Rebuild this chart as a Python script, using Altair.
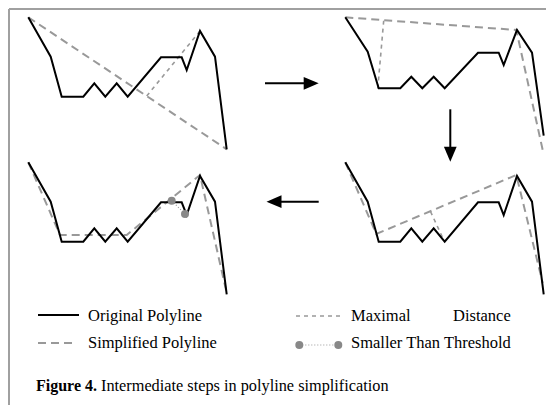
import altair as alt
import pandas as pd

# ---- data (page pixel units) ----
BASE_X = [28.3, 50.7, 61.7, 83.3, 94.3, 105.3, 116.7, 127.7, 161.0, 181.7, 186.7, 200.0, 215.0, 226.7]
BASE_Y = [17.3, 56.7, 96.7, 96.7, 83.3, 96.7, 83.3, 96.7, 57.3, 57.3, 70.0, 31.0, 56.7, 149.3]
P2_Y = [17.3, 51.7, 88.3, 88.3, 76.7, 88.3, 76.7, 88.3, 52.7, 52.7, 65.0, 30.0, 52.7, 135.7]
DX = 317
DY = 145

SIMP = {
    "p1": ([28.3, 226.7], [17.3, 149.3]),
    "p2": ([345.3, 516.3, 542.7], [17.3, 30.0, 150.0]),
    "p3": ([28.3, 60.0, 126.7, 200.0, 226.7], [162.3, 235.0, 235.0, 175.0, 293.0]),
    "p4": ([345.3, 376.3, 516.3, 542.7], [162.3, 234.0, 175.0, 283.0]),
    "leg": ([38.0, 73.0], [343.0, 343.0]),
}
MAXD = {
    "p1": ([146.7, 200.0], [96.0, 31.0]),
    "p2": ([383.7, 377.7], [20.7, 89.3]),
    "p4": ([430.5, 443.7], [211.5, 240.0]),
    "leg": ([296.0, 341.0], [316.0, 316.0]),
}
DOTTED = {
    "p3": ([171.7, 185.0], [200.7, 214.0]),
    "leg": ([299.3, 338.3], [345.0, 345.0]),
}
CIRCLE_X = [171.7, 185.0, 299.3, 338.3]
CIRCLE_Y = [200.7, 214.0, 345.0, 345.0]

ARROW_LINES = {
    "a1": ([265.0, 306.0], [83.3, 83.3]),
    "a2": ([450.3, 450.3], [109.3, 149.0]),
    "a3": ([279.0, 318.7], [201.7, 201.7]),
}
HEAD_X = [311.2, 450.3, 274.0]
HEAD_Y = [83.3, 154.2, 201.7]
HEAD_ANGLE = [0, 90, 180]

LEG_BLACK = ([38.0, 79.0], [315.0, 315.0])

TEXTS = ["Original Polyline", "Simplified Polyline", "Maximal", "Distance", "Smaller Than Threshold"]
TEXT_X = [88.0, 88.0, 351.0, 453.0, 351.0]
TEXT_Y = [320.5, 347.5, 320.5, 320.5, 347.5]
CAPTION_BOLD = "Figure 4."
CAPTION_REST = "Intermediate steps in polyline simplification"
CAPTION_X = [36.0, 101.0]
CAPTION_Y = 390.5

BORDER = {"top": ([9.0, 546.0], [9.0, 9.0]), "left": ([9.0, 9.0], [9.0, 405.0])}


def lines_df(d):
    rows = []
    for g, (xs, ys) in d.items():
        for i, (x, y) in enumerate(zip(xs, ys)):
            rows.append({"x": x, "y": y, "o": i, "g": g})
    return pd.DataFrame(rows)


orig = {
    "p1": (BASE_X, BASE_Y),
    "p2": ([x + DX for x in BASE_X], P2_Y),
    "p3": (BASE_X, [y + DY for y in BASE_Y]),
    "p4": ([x + DX for x in BASE_X], [y + DY for y in BASE_Y]),
    "leg": LEG_BLACK,
}

W, H = 538, 397
xs = alt.Scale(domain=[8, 8 + W], zero=False, nice=False)
ys = alt.Scale(domain=[8, 8 + H], zero=False, nice=False, reverse=True)
X = alt.X("x:Q", scale=xs, axis=None)
Y = alt.Y("y:Q", scale=ys, axis=None)

border = alt.Chart(lines_df(BORDER)).mark_line(color="#a0a0a0", strokeWidth=2).encode(
    x=X, y=Y, detail="g:N", order="o:Q")

simp = alt.Chart(lines_df(SIMP)).mark_line(
    color="#999999", strokeWidth=2, strokeDash=[8, 5]).encode(x=X, y=Y, detail="g:N", order="o:Q")

maxd = alt.Chart(lines_df(MAXD)).mark_line(
    color="#999999", strokeWidth=1.6, strokeDash=[4, 4]).encode(x=X, y=Y, detail="g:N", order="o:Q")

dotted = alt.Chart(lines_df(DOTTED)).mark_line(
    color="#999999", strokeWidth=1.2, strokeDash=[1, 2]).encode(x=X, y=Y, detail="g:N", order="o:Q")

black = alt.Chart(lines_df(orig)).mark_line(
    color="black", strokeWidth=2).encode(x=X, y=Y, detail="g:N", order="o:Q")

circles = alt.Chart(pd.DataFrame({"x": CIRCLE_X, "y": CIRCLE_Y})).mark_circle(
    color="#888888", size=64, opacity=1).encode(x=X, y=Y)

arrows = alt.Chart(lines_df(ARROW_LINES)).mark_line(color="black", strokeWidth=2).encode(
    x=X, y=Y, detail="g:N", order="o:Q")

heads = alt.Chart(pd.DataFrame({"x": HEAD_X, "y": HEAD_Y, "a": HEAD_ANGLE})).mark_point(
    shape="M-1,-0.85L1,0L-1,0.85Z", filled=True, color="black", size=225, opacity=1, strokeWidth=0
).encode(x=X, y=Y, angle=alt.Angle("a:Q", scale=None))

texts = alt.Chart(pd.DataFrame({"x": TEXT_X, "y": TEXT_Y, "t": TEXTS})).mark_text(
    align="left", baseline="alphabetic", font="Liberation Serif", fontSize=16.5, color="black"
).encode(x=X, y=Y, text="t:N")

cap_bold = alt.Chart(pd.DataFrame({"x": [CAPTION_X[0]], "y": [CAPTION_Y], "t": [CAPTION_BOLD]})).mark_text(
    align="left", baseline="alphabetic", font="Liberation Serif", fontSize=16, fontWeight="bold", color="black"
).encode(x=X, y=Y, text="t:N")

cap_rest = alt.Chart(pd.DataFrame({"x": [CAPTION_X[1]], "y": [CAPTION_Y], "t": [CAPTION_REST]})).mark_text(
    align="left", baseline="alphabetic", font="Liberation Serif", fontSize=16.3, color="black"
).encode(x=X, y=Y, text="t:N")

chart = alt.layer(
    border, simp, maxd, dotted, black, circles, arrows, heads, texts, cap_bold, cap_rest
).properties(
    width=W, height=H, autosize="none", padding=0, background="white"
).configure_view(stroke=None)

chart.save("out.html", embed_options={"renderer": "svg", "actions": False})
